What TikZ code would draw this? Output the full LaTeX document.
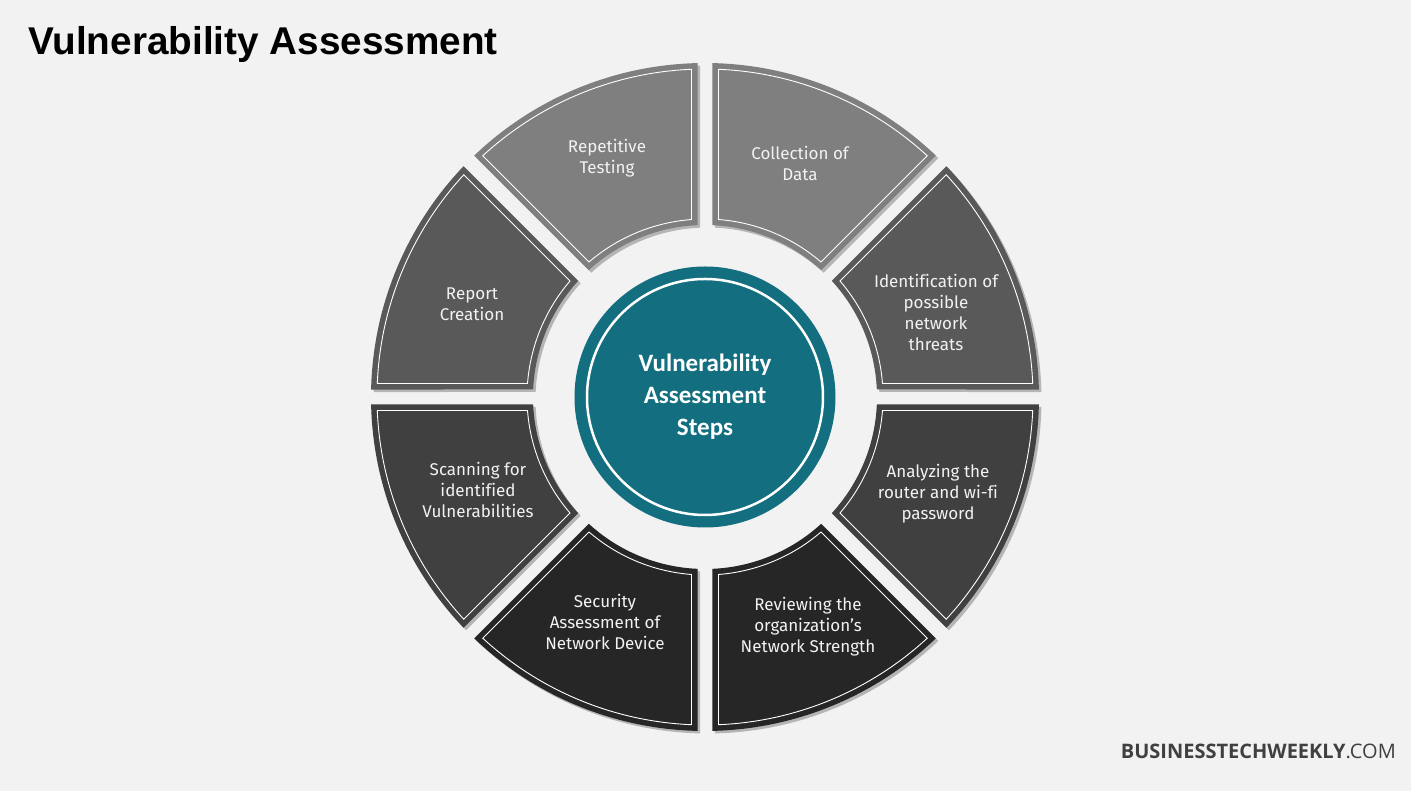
\documentclass[tikz,border=0pt]{standalone}
\usepackage{fontspec}
\setmainfont{Fira Sans}[Ligatures=NoCommon]
\newfontfamily\titlefont{Liberation Sans}
\newfontfamily\hubfont{Carlito}
\newfontfamily\markfont{Open Sans}
\usetikzlibrary{shadows,positioning}

\definecolor{pagebg}{HTML}{F2F2F2}
\definecolor{segA}{HTML}{7F7F7F}
\definecolor{segB}{HTML}{595959}
\definecolor{segC}{HTML}{404040}
\definecolor{segD}{HTML}{262626}
\definecolor{hubteal}{HTML}{136F80}
\definecolor{markgray}{HTML}{404040}

% ring geometry (pt): inner/outer radius and half gap, then the white inset line
\def\rin{172}  \def\rout{334}  \def\gap{7.5}
\def\rinW{178} \def\routW{328} \def\gapW{13.5}

% one ring segment: start angle, fill colour
\newcommand{\ringseg}[2]{%
  \path[fill=#2, segshadow]
    ({#1+asin(\gap/\rin)}:\rin pt) -- ({#1+asin(\gap/\rout)}:\rout pt)
    arc[start angle={#1+asin(\gap/\rout)}, end angle={#1+45-asin(\gap/\rout)}, radius=\rout pt]
    -- ({#1+45-asin(\gap/\rin)}:\rin pt)
    arc[start angle={#1+45-asin(\gap/\rin)}, end angle={#1+asin(\gap/\rin)}, radius=\rin pt]
    -- cycle;
  \draw[inset]
    ({#1+asin(\gapW/\rinW)}:\rinW pt) -- ({#1+asin(\gapW/\routW)}:\routW pt)
    arc[start angle={#1+asin(\gapW/\routW)}, end angle={#1+45-asin(\gapW/\routW)}, radius=\routW pt]
    -- ({#1+45-asin(\gapW/\rinW)}:\rinW pt)
    arc[start angle={#1+45-asin(\gapW/\rinW)}, end angle={#1+asin(\gapW/\rinW)}, radius=\rinW pt]
    -- cycle;
}

\begin{document}
\begin{tikzpicture}[
    segshadow/.style={drop shadow={shadow xshift=2.5pt, shadow yshift=-2.5pt, opacity=0.25, fill=black}},
    inset/.style={draw=white, line width=0.9pt},
    segtext/.style={align=center, text=pagebg, font=\fontsize{17}{21}\selectfont},
    hub/.style={circle, fill=hubteal, minimum size=261pt, inner sep=0pt, text=white,
                align=center, font=\hubfont\bfseries\fontsize{25}{32}\selectfont}
]
%% ── Page ─────────────────────────────────────────────────────────
\fill[pagebg] (-705pt,-394pt) rectangle (706pt,397pt);

%% ── Ring segments ────────────────────────────────────────────────
\ringseg{45}{segA}
\ringseg{90}{segA}
\ringseg{0}{segB}
\ringseg{135}{segB}
\ringseg{-45}{segC}
\ringseg{180}{segC}
\ringseg{-90}{segD}
\ringseg{225}{segD}

%% ── Centre ───────────────────────────────────────────────────────
\node[hub] (hub) at (0,0) {Vulnerability\\Assessment\\Steps};
\draw[white, line width=2.5pt] (hub.center) circle[radius=118pt];

%% ── Segment labels ───────────────────────────────────────────────
\node[segtext] (collect)  at (95pt,234pt)    {Collection of\\Data};
\node[segtext] (identify) at (231pt,85pt)    {Identification of\\possible\\network\\threats};
\node[segtext] (analyze)  at (233pt,-97pt)   {Analyzing the\\router and wi-fi\\password};
\node[segtext] (review)   at (103pt,-230pt)  {Reviewing the\\organization’s\\Network Strength};
\node[segtext] (security) at (-100pt,-225pt) {Security\\Assessment of\\Network Device};
\node[segtext] (scan)     at (-227pt,-93pt)  {Scanning for\\identified\\Vulnerabilities};
\node[segtext] (report)   at (-233pt,93pt)   {Report\\Creation};
\node[segtext] (repeat)   at (-98pt,239pt)   {Repetitive\\Testing};

%% ── Title and brand ──────────────────────────────────────────────
\node[anchor=base west, inner sep=0pt, font=\titlefont\bfseries\fontsize{38.7}{46}\selectfont]
    (title) at (-677pt,342pt) {Vulnerability Assessment};
\node[anchor=base east, inner sep=0pt, text=markgray, font=\markfont\fontsize{20}{24}\selectfont]
    (brand) at (691pt,-362pt) {{\bfseries BUSINESSTECHWEEKLY}.COM};
\end{tikzpicture}
\end{document}
